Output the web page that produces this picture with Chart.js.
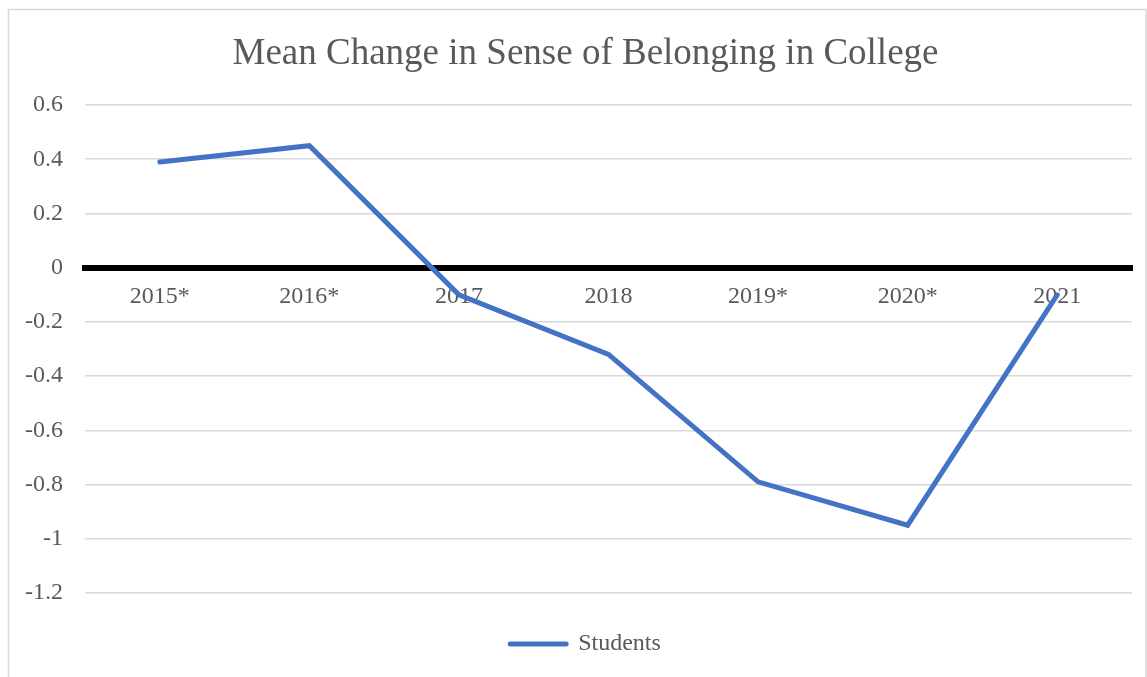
<!DOCTYPE html>
<html>
<head>
<meta charset="utf-8">
<script src="https://cdn.jsdelivr.net/npm/chart.js@4/dist/chart.umd.min.js"></script>
<style>
  html, body { margin: 0; padding: 0; background: #ffffff; }
  #wrap { width: 1147px; height: 677px; position: relative; }
</style>
</head>
<body>
<div id="wrap"><canvas id="c" width="1147" height="677"></canvas></div>
<script>
const chartTitle = "Mean Change in Sense of Belonging in College";
const categories = ["2015*", "2016*", "2017", "2018", "2019*", "2020*", "2021"];
const seriesName = "Students";
const studentValues = [0.39, 0.45, -0.10, -0.32, -0.79, -0.95, -0.10];
const yTickMin = -1.2;
const yTickMax = 0.6;
const yTickStep = 0.2;

const FONT = "'Liberation Serif', 'Times New Roman', serif";
const TEXT = "#595959";
const GRID = "#d9d9d9";
const BLUE = "#4472c4";

const frame = {
  id: 'frame',
  beforeDraw(chart) {
    const ctx = chart.ctx;
    ctx.save();
    ctx.fillStyle = '#ffffff';
    ctx.fillRect(0, 0, chart.width, chart.height);
    ctx.strokeStyle = GRID;
    ctx.lineWidth = 1.5;
    ctx.strokeRect(8.5, 9.5, chart.width - 9.5, chart.height + 20);
    ctx.restore();
  }
};

// Centre title and legend over the same horizontal span as the reference
const recentre = {
  id: 'recentre',
  afterLayout(chart) {
    if (chart.titleBlock) { chart.titleBlock.left += 7; chart.titleBlock.right += 7; }
    if (chart.legend) { chart.legend.left += 7; chart.legend.right += 7; }
  }
};

new Chart(document.getElementById('c'), {
  type: 'line',
  data: {
    labels: categories,
    datasets: [{
      label: seriesName,
      data: studentValues,
      borderColor: BLUE,
      backgroundColor: BLUE,
      borderWidth: 5,
      tension: 0,
      pointRadius: 0,
      pointHoverRadius: 0,
      borderCapStyle: 'round',
      fill: false,
      pointStyle: 'line'
    }]
  },
  options: {
    responsive: false,
    animation: false,
    events: [],
    layout: { padding: { left: 25, right: 15, top: 0, bottom: 11 } },
    plugins: {
      title: {
        display: true,
        text: chartTitle,
        color: TEXT,
        font: { family: FONT, size: 37, weight: 'normal' },
        padding: { top: 32.5, bottom: 28.1 }
      },
      legend: {
        position: 'bottom',
        labels: {
          color: TEXT,
          font: { family: FONT, size: 24 },
          usePointStyle: true,
          pointStyle: 'line',
          pointStyleWidth: 56,
          padding: 39,
          generateLabels(chart) {
            const items = Chart.defaults.plugins.legend.labels.generateLabels(chart);
            items.forEach(it => { it.lineCap = 'round'; it.lineWidth = 5; it.strokeStyle = BLUE; it.pointStyle = 'line'; });
            return items;
          }
        }
      },
      tooltip: { enabled: false }
    },
    scales: {
      x: {
        position: { y: 0 },
        offset: true,
        grid: { display: false, drawTicks: false, offset: true },
        border: { display: true, color: '#000000', width: 6 },
        ticks: {
          color: TEXT,
          font: { family: FONT, size: 24 },
          padding: 15,
          maxRotation: 0,
          autoSkip: false
        }
      },
      y: {
        min: yTickMin,
        max: yTickMax,
        grid: { color: GRID, lineWidth: 1.5, drawTicks: false },
        border: { display: false },
        ticks: {
          stepSize: yTickStep,
          color: TEXT,
          font: { family: FONT, size: 24 },
          padding: 22,
          callback: v => String(parseFloat(Number(v).toFixed(1)))
        },
        afterFit(scale) { scale.width = 60; }
      }
    }
  },
  plugins: [frame, recentre]
});
</script>
</body>
</html>
